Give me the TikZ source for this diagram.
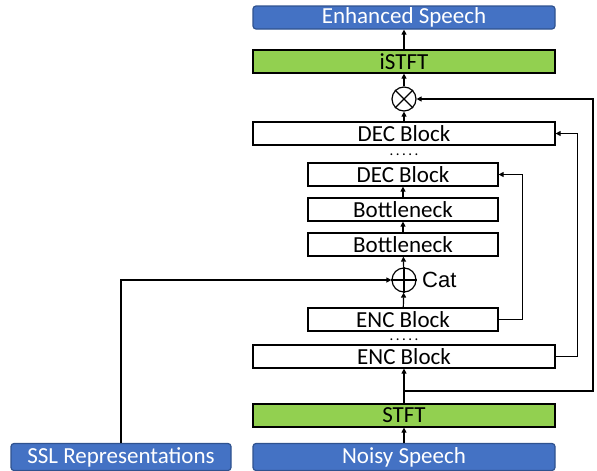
\documentclass[tikz,border=0pt]{standalone}
\usepackage{fontspec}
\setmainfont{Carlito}
\newfontfamily\catfont{Liberation Sans}
\usepackage{xcolor}
\usetikzlibrary{arrows.meta, positioning}
\definecolor{ioblue}{HTML}{4472C4}
\definecolor{ioedge}{HTML}{2F528F}
\definecolor{specgreen}{HTML}{92D050}

\begin{document}
\begin{tikzpicture}[x=1pt, y=-1pt,
    block/.style={rectangle, draw=black, line width=1.2pt, minimum height=23pt,
                  inner sep=0pt, font=\fontsize{23}{24}\selectfont, fill=white},
    wide/.style={block, minimum width=302pt},
    narrow/.style={block, minimum width=190pt},
    io/.style={block, rounded corners=3pt, fill=ioblue, draw=ioedge,
               text=white, minimum height=27pt},
    spec/.style={wide, fill=specgreen},
    op/.style={circle, draw, line width=1.2pt, minimum size=24pt, inner sep=0pt},
    dots/.style={font=\fontsize{15}{15}\selectfont, inner sep=0pt, anchor=base},
    arrow/.style={-{Triangle[length=5pt, width=5pt]}, line width=1.2pt},
]
\useasboundingbox (0,0) rectangle (597,471);

% Inputs
\node[io, minimum width=302pt] (noisy) at (404,457) {Noisy Speech};
\node[io, minimum width=220pt] (ssl) at (121,457) {SSL Representations};

% Encoder side
\node[spec] (stft) at (404,415.5) {STFT};
\node[wide] (encA) at (404,356.5) {ENC Block};
\node[dots] (dotsA) at (404,340.5) {.\,.\,.\,.\,.};
\node[narrow] (encB) at (403,319.5) {ENC Block};

% Concatenation
\node[op] (cat) at (404,280) {};
\draw[line width=1.2pt] (cat.north) -- (cat.south) (cat.west) -- (cat.east);
\node[right=2pt of cat, font=\catfont\fontsize{22}{24}\selectfont] (catlbl) {Cat};

% Bottleneck and decoder
\node[narrow] (bnA) at (403,244.5) {Bottleneck};
\node[narrow] (bnB) at (403,209.5) {Bottleneck};
\node[narrow] (decB) at (403,174.5) {DEC Block};
\node[dots] (dotsB) at (404,155.5) {.\,.\,.\,.\,.};
\node[wide] (decA) at (404,133.5) {DEC Block};

% Masking
\node[op] (mul) at (404,99) {};
\draw[line width=1.2pt] (mul.north west) -- (mul.south east)
                        (mul.north east) -- (mul.south west);
\node[spec] (istft) at (404,61.5) {iSTFT};
\node[io, minimum width=302pt, minimum height=23pt] (enh) at (404,17.5) {Enhanced Speech};

% Main path
\coordinate (tap) at (404,391);
\draw[arrow] (noisy) -- (stft);
\draw[arrow] (stft) -- (encA);
\draw[arrow] (encB) -- (cat);
\draw[arrow] (cat) -- (bnA);
\draw[arrow] (bnA) -- (bnB);
\draw[arrow] (bnB) -- (decB);
\draw[arrow] (decA) -- (mul);
\draw[arrow] (mul) -- (istft);
\draw[arrow] (istft) -- (enh);

% Skip connections
\draw[arrow] (ssl.north) |- (cat.west);
\draw[arrow] (encB.east) -- ++(24,0) |- (decB.east);
\draw[arrow] (encA.east) -- ++(22,0) |- (decA.east);
\draw[arrow] (tap) -- ++(189,0) |- (mul.east);

\end{tikzpicture}
\end{document}
